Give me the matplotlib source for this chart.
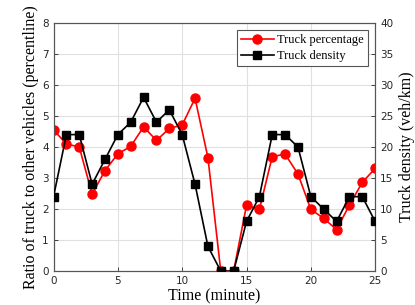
import numpy as np
import matplotlib
matplotlib.use("Agg")
import matplotlib.pyplot as plt

tempo = np.arange(0, 26)
pct_caminhao = [4.55, 4.1, 4.0, 2.48, 3.24, 3.78, 4.02, 4.65, 4.21, 4.6, 4.71, 5.57, 3.66,
                0.0, 0.0, 2.12, 1.99, 3.69, 3.77, 3.13, 1.99, 1.70, 1.34, 2.13, 2.86, 3.31]
dens_caminhao = [12, 22, 22, 14, 18, 22, 24, 28, 24, 26, 22, 14, 4,
                 0, 0, 8, 12, 22, 22, 20, 12, 10, 8, 12, 12, 8]

serif = "Liberation Serif"
tick_cor = "#262626"

fig = plt.figure(figsize=(4.15, 3.05), dpi=100)
ax = fig.add_axes([0.129, 0.111, 0.775, 0.814])
ax2 = ax.twinx()

l1, = ax.plot(tempo, pct_caminhao, "-o", color="red", lw=1.2, ms=6.5, zorder=3,
              label="Truck percentage")
l2, = ax2.plot(tempo, dens_caminhao, "-s", color="black", lw=1.2, ms=6, zorder=3,
               label="Truck density")

ax.set_xlim(0, 25)
ax.set_ylim(0, 8)
ax2.set_ylim(0, 40)
ax.set_xticks([0, 5, 10, 15, 20, 25])
ax.set_yticks(range(0, 9))
ax2.set_yticks(range(0, 41, 5))
ax.grid(True, color="#e0e0e0", lw=0.8)
ax.set_axisbelow(True)

for a in (ax, ax2):
    a.tick_params(direction="in", length=3, labelsize=7.5, colors=tick_cor, width=0.6)
    for s in a.spines.values():
        s.set_color("#555555")
        s.set_linewidth(0.8)

ax.set_xlabel("Time (minute)", fontsize=11.5, family=serif, labelpad=1.5)
ax.set_ylabel("Ratio of truck to other vehicles (percentline)", fontsize=11.5,
              family=serif, labelpad=2)
ax2.set_ylabel("Truck density (veh/km)", fontsize=11.5, family=serif, labelpad=4)

leg = ax.legend(handles=[l1, l2], loc="upper right", prop={"family": serif, "size": 9},
                fancybox=False, edgecolor="#555555", framealpha=1, borderpad=0.3,
                handlelength=2.6, labelspacing=0.35, borderaxespad=0.6, handletextpad=0.3)
leg.get_frame().set_linewidth(0.8)

fig.savefig("out.png", dpi=100)
